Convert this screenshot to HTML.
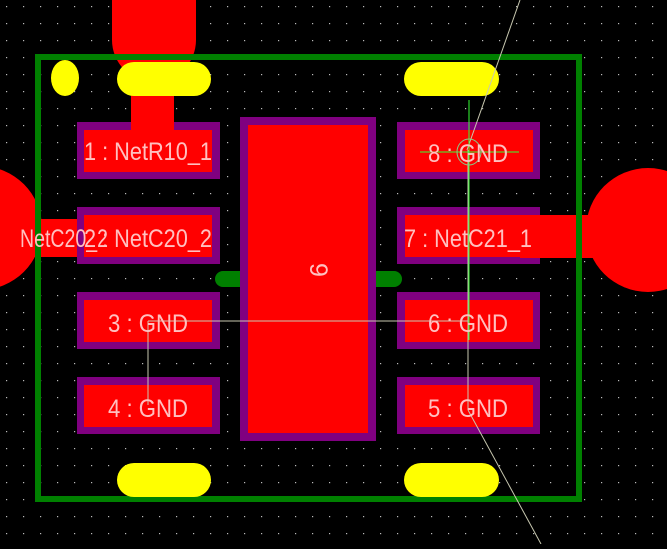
<!DOCTYPE html>
<html><head><style>html,body{margin:0;padding:0;background:#000;overflow:hidden}</style></head>
<body>
<svg width="667" height="544" viewBox="0 0 667 544" xmlns="http://www.w3.org/2000/svg">
<defs>
<pattern id="g" width="17" height="17" patternUnits="userSpaceOnUse" x="6" y="6">
<rect x="0" y="0" width="1.2" height="1.2" fill="#bbb"/>
</pattern>
</defs>
<rect width="667" height="544" fill="#000"/>
<rect width="667" height="544" fill="url(#g)"/>
<path d="M112 0 H196 V40 A42 42 0 0 1 112 40 Z" fill="#f00"/>
<rect x="131" y="80" width="43" height="48" fill="#f00"/>
<circle cx="-20" cy="228" r="62" fill="#f00"/>
<rect x="0" y="219" width="90" height="38" fill="#f00"/>
<circle cx="648" cy="230" r="62" fill="#f00"/>
<rect x="520" y="215" width="130" height="43" fill="#f00"/>
<rect x="38" y="57" width="541" height="442" fill="none" stroke="#008000" stroke-width="6"/>
<rect x="215" y="271" width="187" height="16" rx="8" fill="#008000"/>
<ellipse cx="65" cy="78" rx="14" ry="18" fill="#ff0"/>
<rect x="117" y="62" width="94" height="34" rx="17" fill="#ff0"/>
<rect x="404" y="62" width="95" height="34" rx="17" fill="#ff0"/>
<rect x="117" y="463" width="94" height="34" rx="17" fill="#ff0"/>
<rect x="404" y="463" width="95" height="34" rx="17" fill="#ff0"/>
<g fill="#800080">
<rect x="77" y="122" width="143" height="57"/>
<rect x="77" y="207" width="143" height="57"/>
<rect x="77" y="292" width="143" height="57"/>
<rect x="77" y="377" width="143" height="57"/>
<rect x="397" y="122" width="143" height="57"/>
<rect x="397" y="207" width="143" height="57"/>
<rect x="397" y="292" width="143" height="57"/>
<rect x="397" y="377" width="143" height="57"/>
<rect x="240" y="117" width="136" height="324"/>
</g>
<g fill="#f00">
<rect x="84" y="130" width="128" height="42"/>
<rect x="84" y="215" width="128" height="42"/>
<rect x="84" y="300" width="128" height="42"/>
<rect x="84" y="385" width="128" height="42"/>
<rect x="405" y="130" width="128" height="42"/>
<rect x="405" y="215" width="128" height="42"/>
<rect x="405" y="300" width="128" height="42"/>
<rect x="405" y="385" width="128" height="42"/>
<rect x="248" y="125" width="120" height="308"/>
<rect x="131" y="120" width="43" height="10"/>
<rect x="520" y="215" width="20" height="43"/>
</g>
<g stroke="#c8c8b0" stroke-width="1" fill="none">
<line x1="520" y1="0" x2="467" y2="150"/>
<line x1="468" y1="150" x2="468" y2="410"/>
<line x1="468" y1="410" x2="541" y2="544"/>
<line x1="148" y1="321" x2="468" y2="321"/>
<line x1="148" y1="321" x2="148" y2="405"/>
</g>
<g stroke="#3f3" stroke-width="1" fill="none">
<line x1="469" y1="100" x2="469" y2="340"/>
<line x1="420" y1="152" x2="519" y2="152"/>
<ellipse cx="469" cy="152" rx="12" ry="13" stroke="#8c8"/>
</g>
<g fill="#ffc0c0" font-family="Liberation Sans, sans-serif" font-size="25">
<text x="148" y="160" text-anchor="middle" textLength="128" lengthAdjust="spacingAndGlyphs">1 : NetR10_1</text>
<text x="148" y="247" text-anchor="middle" textLength="128" lengthAdjust="spacingAndGlyphs">2 : NetC20_2</text>
<text x="20" y="247" textLength="88" lengthAdjust="spacingAndGlyphs">NetC20_2</text>
<text x="148" y="332" text-anchor="middle" textLength="80" lengthAdjust="spacingAndGlyphs">3 : GND</text>
<text x="148" y="417" text-anchor="middle" textLength="80" lengthAdjust="spacingAndGlyphs">4 : GND</text>
<text x="468" y="162" text-anchor="middle" textLength="80" lengthAdjust="spacingAndGlyphs">8 : GND</text>
<text x="468" y="247" text-anchor="middle" textLength="128" lengthAdjust="spacingAndGlyphs">7 : NetC21_1</text>
<text x="468" y="332" text-anchor="middle" textLength="80" lengthAdjust="spacingAndGlyphs">6 : GND</text>
<text x="468" y="417" text-anchor="middle" textLength="80" lengthAdjust="spacingAndGlyphs">5 : GND</text>
<text x="0" y="0" text-anchor="middle" transform="translate(310 270) rotate(90)">9</text>
</g>
</svg>
</body></html>
